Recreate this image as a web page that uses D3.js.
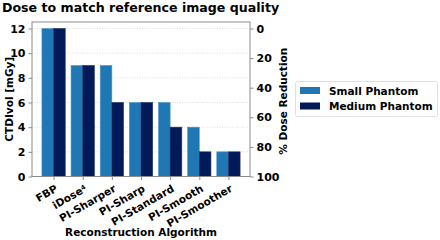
<!DOCTYPE html>
<html><head><meta charset="utf-8">
<script src="https://cdn.jsdelivr.net/npm/d3@7"></script>
<style>body{margin:0;background:#fff}svg{display:block}text{font-family:"DejaVu Sans";font-weight:bold;fill:#000}</style>
</head><body>
<svg id="c" width="440" height="240"></svg>
<script>
const categories = ["FBP","iDose4","PI-Sharper","PI-Sharp","PI-Standard","PI-Smooth","PI-Smoother"];
const smallPhantom = [12, 9, 9, 6, 6, 4, 2];
const mediumPhantom = [12, 9, 6, 6, 4, 2, 2];
const leftTicks = [0, 2, 4, 6, 8, 10, 12];
const rightTicks = [0, 20, 40, 60, 80, 100];
const seriesNames = ["Small Phantom", "Medium Phantom"];
const colors = ["#1f77b4", "#031a58"];

const svg = d3.select("#c");
const L = 32, R = 250, T = 22, B = 176.5;
const x = d3.scaleLinear().domain([-0.74, 6.74]).range([L, R]);
const y = d3.scaleLinear().domain([0, 12]).range([B, 28.5]);
const yr = d3.scaleLinear().domain([0, 100]).range([28.5, B]);

// grid
svg.append("g").selectAll("line").data(leftTicks).join("line")
  .attr("x1", L).attr("x2", R).attr("y1", d => y(d)).attr("y2", d => y(d))
  .attr("stroke", "#d4d4d4").attr("stroke-width", 0.8).attr("stroke-dasharray", "1,1.5");

// bars
const w = 0.4;
const series = [smallPhantom, mediumPhantom];
series.forEach((vals, s) => {
  svg.append("g").selectAll("rect").data(vals).join("rect")
    .attr("x", (d, i) => x(i - w + s * w))
    .attr("width", x(w) - x(0))
    .attr("y", d => y(d))
    .attr("height", d => y(0) - y(d))
    .attr("fill", colors[s])
    .attr("stroke", s === 0 ? "#4f95cc" : "#1c2f6a").attr("stroke-width", 0.6);
});

// frame
svg.append("rect").attr("x", L).attr("y", T).attr("width", R - L).attr("height", B - T)
  .attr("fill", "none").attr("stroke", "#8c8c8c").attr("stroke-width", 1);

// left axis
const la = svg.append("g").attr("transform", `translate(${L},0)`)
  .call(d3.axisLeft(y).tickValues(leftTicks).tickSize(3.5).tickPadding(3));
// right axis
const ra = svg.append("g").attr("transform", `translate(${R},0)`)
  .call(d3.axisRight(yr).tickValues(rightTicks).tickSize(3.5).tickPadding(3));
// bottom axis
const ba = svg.append("g").attr("transform", `translate(0,${B})`)
  .call(d3.axisBottom(x).tickValues(d3.range(categories.length)).tickFormat(() => "").tickSize(3.5));
[la, ra, ba].forEach(g => {
  g.select(".domain").remove();
  g.selectAll(".tick line").attr("stroke", "#8c8c8c");
  g.selectAll("text").style("font-family", "DejaVu Sans").style("font-weight", "bold")
    .style("font-size", "11px").attr("fill", "#000");
});

// x category labels rotated
const xl = svg.append("g");
categories.forEach((c, i) => {
  const t = xl.append("text")
    .attr("transform", `translate(${x(i) + 3},${B + 11}) rotate(-30)`)
    .attr("text-anchor", "end").attr("dy", "0.35em")
    .style("font-size", "10.5px");
  if (c === "iDose4") {
    t.append("tspan").text("iDose");
    t.append("tspan").text("4").attr("dy", "-0.45em").style("font-size", "6.5px");
  } else t.text(c);
});

// titles
svg.append("text").attr("x", 2).attr("y", 11.5).style("font-size", "12.6px").text("Dose to match reference image quality");
svg.append("text").attr("transform", `translate(13,${(T + B) / 2}) rotate(-90)`)
  .attr("text-anchor", "middle").style("font-size", "10.5px").text("CTDIvol [mGy]");
svg.append("text").attr("transform", `translate(287,${(T + B) / 2 + 2}) rotate(-90)`)
  .attr("text-anchor", "middle").style("font-size", "10.5px").text("% Dose Reduction");
svg.append("text").attr("x", (L + R) / 2).attr("y", 236).attr("text-anchor", "middle")
  .style("font-size", "10.5px").text("Reconstruction Algorithm");

// legend
const lg = svg.append("g");
lg.append("rect").attr("x", 295.5).attr("y", 81.5).attr("width", 142).attr("height", 35).attr("rx", 2)
  .attr("fill", "#fff").attr("stroke", "#e0e0e0").attr("stroke-width", 1);
seriesNames.forEach((n, i) => {
  lg.append("rect").attr("x", 300).attr("y", 87 + i * 15.5).attr("width", 20).attr("height", 7)
    .attr("fill", colors[i]);
  lg.append("text").attr("x", 329).attr("y", 94.5 + i * 15.5).style("font-size", "10.5px").text(n);
});
</script>
</body></html>
